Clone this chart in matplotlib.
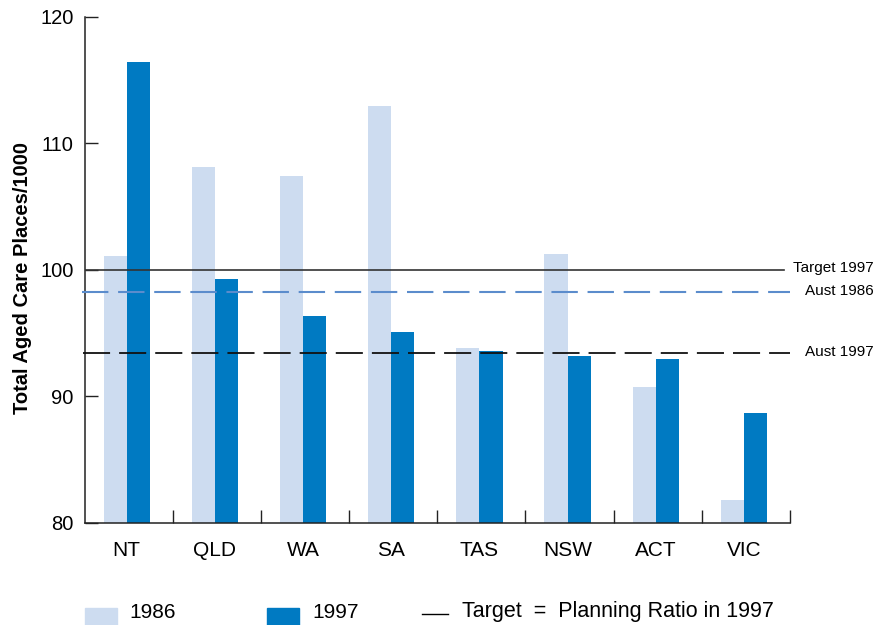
import matplotlib
matplotlib.use("Agg")
import matplotlib.pyplot as plt
from matplotlib.patches import Rectangle
from matplotlib.lines import Line2D
import matplotlib.transforms as mtransforms
import numpy as np

plt.rcParams['font.family'] = ['Liberation Sans', 'DejaVu Sans']
plt.rcParams['lines.scale_dashes'] = False

# ---- data ----
states = ["NT", "QLD", "WA", "SA", "TAS", "NSW", "ACT", "VIC"]
places_1986 = [101.1, 108.1, 107.4, 112.9, 93.8, 101.2, 90.7, 81.8]
places_1997 = [116.4, 99.25, 96.3, 95.05, 93.6, 93.2, 92.95, 88.7]
target_1997 = 100.0
aust_1986 = 98.2
aust_1997 = 93.4
yticks = [80, 90, 100, 110, 120]

# ---- style ----
c_light = '#cddcf0'
c_dark = '#007ac2'
c_blue_line = '#5b8ccc'
W, H = 876, 625

fig = plt.figure(figsize=(W / 100, H / 100), dpi=100)
ax = fig.add_axes([84.5 / W, (H - 522.7) / H, (790 - 84.5) / W, 506.2 / H])

x = np.arange(len(states))
bw = 0.262
shift = -0.022
ax.bar(x + shift - bw / 2, places_1986, width=bw, color=c_light, zorder=2)
ax.bar(x + shift + bw / 2, places_1997, width=bw, color=c_dark, zorder=2)

ax.set_xlim(-0.5, len(states) - 0.5)
ax.set_ylim(80, 120)

# reference lines
ax.axhline(target_1997, xmin=0, xmax=0.992, color='#333333', lw=1.2, zorder=3)
ax.axhline(aust_1986, xmin=-0.004, xmax=1.0, color=c_blue_line, lw=1.5,
           linestyle=(0, (19, 7)), zorder=3, clip_on=False)
ax.axhline(aust_1997, xmin=-0.002, xmax=1.0, color='#111111', lw=1.3,
           linestyle=(0, (19.5, 6.5)), zorder=3, clip_on=False)

tr = mtransforms.blended_transform_factory(fig.transFigure, ax.transData)
for val, lab in [(target_1997, "Target 1997"), (aust_1986, "Aust 1986"), (aust_1997, "Aust 1997")]:
    ax.text(874 / W, val + 0.1, lab, transform=tr, ha='right', va='center',
            fontsize=11, color='black', clip_on=False)

# spines and ticks
for s in ['top', 'right']:
    ax.spines[s].set_visible(False)
for s in ['left', 'bottom']:
    ax.spines[s].set_color('#222222')
    ax.spines[s].set_linewidth(1.1)

ax.set_yticks(yticks)
ax.tick_params(axis='y', direction='in', length=9.5, width=1.0, color='#222222',
               pad=8, labelsize=14.5)
ax.set_xticks(x + shift)
ax.set_xticklabels(states)
ax.tick_params(axis='x', which='major', length=0, pad=13, labelsize=15)
ax.set_xticks(np.arange(0.5, len(states), 1.0), minor=True)
ax.tick_params(axis='x', which='minor', direction='in', length=9.5, width=1.0,
               color='#222222')

ax.set_ylabel("Total Aged Care Places/1000", fontsize=14.5, fontweight='bold')
ax.yaxis.label.set_va('center')
ax.yaxis.set_label_coords((23 - 84.5) / (790 - 84.5), (522.7 - 278) / 506.2)

# ---- legend (figure coordinates) ----
fig.add_artist(Rectangle((85 / W, 0), 32 / W, 17 / H, transform=fig.transFigure,
                         color=c_light, clip_on=False))
fig.text(129 / W, 1 - 612 / H, "1986", ha='left', va='center', fontsize=15)
fig.add_artist(Rectangle((267 / W, 0), 32 / W, 17 / H, transform=fig.transFigure,
                         color=c_dark, clip_on=False))
fig.text(312 / W, 1 - 612 / H, "1997", ha='left', va='center', fontsize=15)
fig.add_artist(Line2D([422 / W, 448 / W], [1 - 614 / H, 1 - 614 / H],
                      transform=fig.transFigure, color='black', lw=1.0))
fig.text(462 / W, 1 - 612 / H, "Target  =  Planning Ratio in 1997", ha='left',
         va='center', fontsize=15.5)

fig.savefig("out.png", dpi=100)
